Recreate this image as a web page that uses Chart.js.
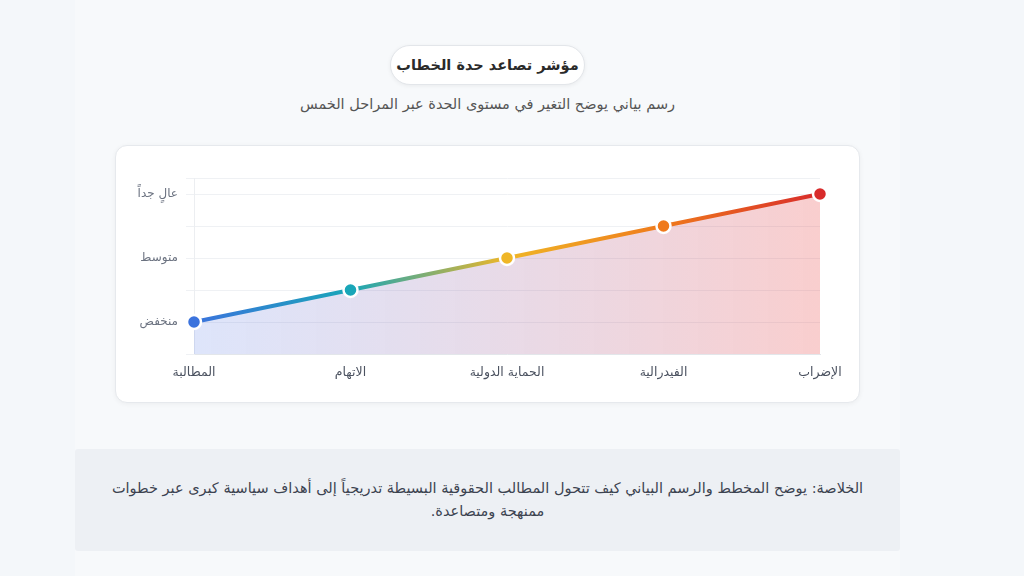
<!DOCTYPE html>
<html lang="ar" dir="rtl">
<head>
<meta charset="utf-8">
<script src="https://cdn.jsdelivr.net/npm/chart.js@4"></script>
<style>
  html, body {
    margin: 0;
    padding: 0;
    width: 1024px;
    height: 576px;
    background: #f4f7fa;
    font-family: "DejaVu Sans", "Noto Sans", sans-serif;
    overflow: hidden;
  }
  .wrap {
    position: absolute;
    left: 75px;
    top: 0;
    width: 825px;
    height: 576px;
    background: #f7f9fb;
  }
  .pill {
    position: absolute;
    left: 390px;
    top: 45px;
    width: 195px;
    height: 40px;
    box-sizing: border-box;
    background: #fff;
    border: 1px solid #e3e6ea;
    border-radius: 20px;
    box-shadow: 0 1px 4px rgba(0,0,0,0.06);
    text-align: center;
    line-height: 38px;
    font-size: 14.5px;
    font-weight: bold;
    color: #2a2a2a;
  }
  .sub {
    position: absolute;
    left: 230px;
    width: 515px;
    top: 96px;
    text-align: center;
    font-size: 14.5px;
    color: #555;
  }
  .card {
    position: absolute;
    left: 115px;
    top: 145px;
    width: 745px;
    height: 258px;
    box-sizing: border-box;
    background: #fff;
    border: 1px solid #e6e9ed;
    border-radius: 12px;
    box-shadow: 0 1px 5px rgba(0,0,0,0.05);
  }
  .card canvas {
    position: absolute;
    left: 9px;
    top: 14px;
  }
  .summary {
    position: absolute;
    left: 75px;
    top: 449px;
    width: 825px;
    height: 102px;
    box-sizing: border-box;
    background: #edf0f4;
    border-radius: 3px;
    padding: 28px 30px 0 30px;
    text-align: center;
    font-size: 14.5px;
    line-height: 23px;
    color: #3c4350;
  }
</style>
</head>
<body>
<div class="wrap"></div>
<div class="pill">مؤشر تصاعد حدة الخطاب</div>
<div class="sub">رسم بياني يوضح التغير في مستوى الحدة عبر المراحل الخمس</div>
<div class="card"><canvas id="escalationChart" width="726" height="236"></canvas></div>
<div class="summary">الخلاصة: يوضح المخطط والرسم البياني كيف تتحول المطالب الحقوقية البسيطة تدريجياً إلى أهداف سياسية كبرى عبر خطوات ممنهجة ومتصاعدة.</div>

<script>
const stages = ["المطالبة", "الاتهام", "الحماية الدولية", "الفيدرالية", "الإضراب"];
const intensity = [1, 1.5, 2, 2.5, 3];
const levelLabels = { 1: "منخفض", 2: "متوسط", 3: "عالٍ جداً" };
const pointColors = ["#3b73dd", "#19a6b8", "#efb627", "#ef7a1c", "#d82b2b"];

const ctx = document.getElementById("escalationChart");

const lineGradient = (context) => {
  const area = context.chart.chartArea;
  if (!area) return "#3b73dd";
  const g = context.chart.ctx.createLinearGradient(area.left, 0, area.right, 0);
  g.addColorStop(0, "#3b73dd");
  g.addColorStop(0.25, "#19a6b8");
  g.addColorStop(0.5, "#efb627");
  g.addColorStop(0.75, "#ef7a1c");
  g.addColorStop(1, "#d82b2b");
  return g;
};

const fillGradient = (context) => {
  const area = context.chart.chartArea;
  if (!area) return "rgba(70,110,230,0.18)";
  const g = context.chart.ctx.createLinearGradient(area.left, 0, area.right, 0);
  g.addColorStop(0, "rgba(70,110,230,0.18)");
  g.addColorStop(1, "rgba(232,60,60,0.25)");
  return g;
};

new Chart(ctx, {
  type: "line",
  data: {
    labels: stages,
    datasets: [
      {
        label: "الحدة",
        data: intensity,
        borderColor: lineGradient,
        backgroundColor: fillGradient,
        borderWidth: 4,
        fill: "start",
        tension: 0,
        pointRadius: 7,
        pointBorderWidth: 2.5,
        pointBorderColor: "#ffffff",
        pointBackgroundColor: pointColors,
      },
    ],
  },
  options: {
    responsive: false,
    animation: false,
    layout: {
      padding: { top: 18, right: 31, bottom: 0, left: 0 },
    },
    plugins: {
      legend: { display: false },
      tooltip: { enabled: false },
    },
    scales: {
      x: {
        offset: false,
        grid: { display: false },
        border: { color: "#e3e6ea" },
        ticks: {
          color: "#4b5260",
          font: { family: "DejaVu Sans", size: 12.5 },
          padding: 3,
          maxRotation: 0,
        },
        afterFit: (scale) => {
          scale.height = 42;
        },
      },
      y: {
        min: 0.5,
        max: 3.25,
        grid: { color: "#eff1f4" },
        border: { color: "#eceef1" },
        ticks: {
          stepSize: 0.5,
          color: "#6b7280",
          font: { family: "DejaVu Sans", size: 12 },
          padding: 8,
          callback: (value) => levelLabels[value] || "",
        },
        afterFit: (scale) => {
          scale.width = 69;
        },
      },
    },
  },
});
</script>
</body>
</html>
